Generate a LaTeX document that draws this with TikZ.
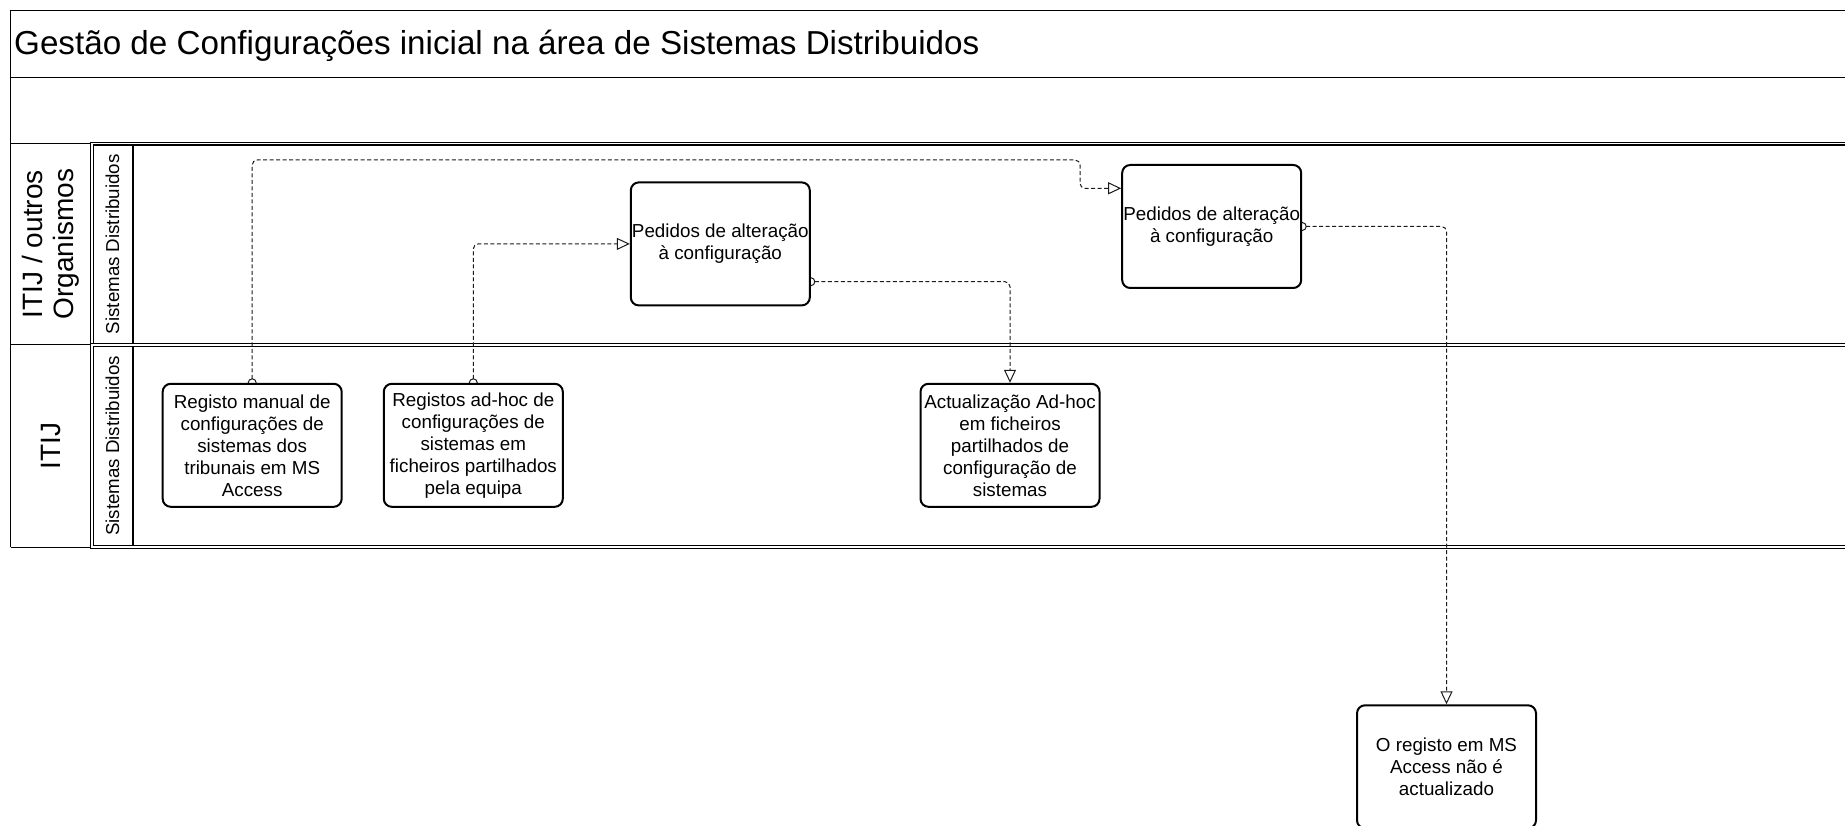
\documentclass[tikz,border=0pt]{standalone}
\usepackage{fontspec}
\setmainfont{Liberation Sans}
\usetikzlibrary{arrows.meta,backgrounds}
\definecolor{flowgray}{HTML}{1A1A1A}

\begin{document}
\begin{tikzpicture}[
  x=1pt, y=-1pt,
  box/.style={
    draw=black, line width=2pt, rounded corners=8pt, fill=white,
    font=\fontsize{18.8}{22}\selectfont, align=center,
    minimum width=179pt, minimum height=123pt, inner sep=1pt
  },
  poollbl/.style={rotate=90, font=\fontsize{28}{31}\selectfont, align=center},
  lanelbl/.style={rotate=90, font=\fontsize{18.7}{22}\selectfont},
  frame/.style={draw=black, line width=1.3pt},
  lane/.style={draw=black, double, double distance=1.5pt, line width=1.3pt},
  flow/.style={
    {Circle[open, length=9pt]}-{Triangle[open, length=13pt, width=12pt]},
    flowgray, line width=1pt, dash pattern=on 4pt off 2.5pt, rounded corners=5pt
  },
]
  \useasboundingbox (0,0) rectangle (1845,826);

  % Title of the pool
  \node[anchor=base west, inner sep=0pt, font=\fontsize{33.2}{36}\selectfont] (titulo)
    at (14,55) {Gestão de Configurações inicial na área de Sistemas Distribuidos};

  % Pool and lane headers
  \node[poollbl] (pool1) at (51.2,244.2) {ITIJ / outros\\Organismos};
  \node[poollbl] (pool2) at (51.2,446) {ITIJ};
  \node[lanelbl] (lane1) at (112.4,244.2) {Sistemas Distribuidos};
  \node[lanelbl] (lane2) at (112.4,446) {Sistemas Distribuidos};

  % Activities
  \node[box] (manual) at (252.2,445.3)
    {Registo manual de\\configurações de\\sistemas dos\\tribunais em MS\\Access};
  \node[box] (adhoc) at (473.3,445.3)
    {Registos ad-hoc de\\configurações de\\sistemas em\\ficheiros partilhados\\pela equipa};
  \node[box] (pedido1) at (720.3,243.9) {Pedidos de alteração\\à configuração};
  \node[box] (actual) at (1010,445.3)
    {Actualização Ad-hoc\\em ficheiros\\partilhados de\\configuração de\\sistemas};
  \node[box] (pedido2) at (1211.7,226.5) {Pedidos de alteração\\à configuração};
  \node[box] (naoact) at (1446.5,766.8) {O registo em MS\\Access não é\\actualizado};

  \begin{scope}[on background layer]
    % Outer frame and header bands
    \draw[frame] (10.6,547.2) -- (10.6,10.6) -- (1860,10.6);
    \draw[frame] (10.6,77.7) -- (1860,77.7);
    \draw[frame] (10.6,143.6) -- (91.8,143.6);
    \draw[frame] (10.6,344.8) -- (91.8,344.8);
    \draw[frame] (10.6,547.2) -- (91.8,547.2);
    \draw[frame, line width=1.5pt] (133,143.6) -- (133,547.2);

    % Swimlanes
    \draw[lane] (91.8,143.6) rectangle (1870,344.8);
    \draw[lane] (91.8,344.8) rectangle (1870,547.2);

    % Message flows
    \draw[flow] ([yshift=-4.5pt]manual.north) |- (1080,160) |- ([yshift=38.2pt]pedido2.west);
    \draw[flow] ([yshift=-4.5pt]adhoc.north) |- (pedido1.west);
    \draw[flow] ([xshift=-4.5pt,yshift=-37.8pt]pedido1.east) -| (actual.north);
    \draw[flow] ([xshift=-4.5pt]pedido2.east) -| (naoact.north);
  \end{scope}

\end{tikzpicture}
\end{document}
